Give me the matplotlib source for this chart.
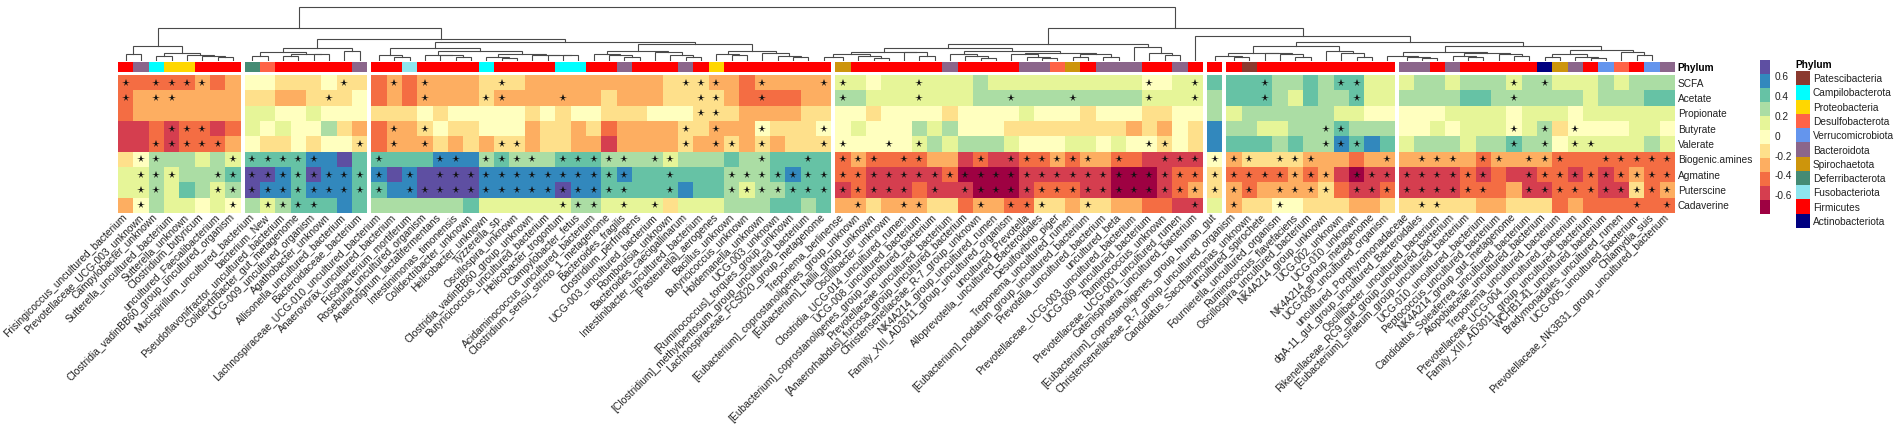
import numpy as np
import matplotlib
matplotlib.use('Agg')
import matplotlib.pyplot as plt
from matplotlib.colors import ListedColormap, BoundaryNorm
from matplotlib.transforms import ScaledTranslation

plt.rcParams['font.family'] = ['Liberation Sans', 'DejaVu Sans']

# correlation estimates, read from the colour bins of the heatmap
D, R, O, o, l, y, g, G, T, B, P = -0.72, -0.58, -0.44, -0.30, -0.16, -0.02, 0.12, 0.27, 0.41, 0.55, 0.69

rows = ['SCFA', 'Acetate', 'Propionate', 'Butyrate', 'Valerate', 'Biogenic.amines', 'Agmatine', 'Puterscine', 'Cadaverine']

block_sizes = [8, 8, 30, 24, 1, 11, 18]

scfa = [O,O,O,O,O,o,O,o, y,y,l,l,l,y,l,l,
        O,o,O,o,o,o,o,l,l,l,o,o,o,o,o,o,o, o,o,l,l,l,o,o,O,o,o,o,o,o,
        g,g,y,g,g,g,g,g,g,G,g,g,g,g,g,g,g,g,g,g,y,y,g,g, T,
        T,T,T,G,G,T,G,T,T,g,g, g,G,G,g,G,G,G,g,G,G,g,g,g,G,g,G,G,G]
acetate = [O,o,o,o,o,o,o,o, l,l,o,o,l,l,l,y,
           O,o,O,o,o,o,o,l,o,o,o,o,o,o,o,l,o, o,o,l,l,l,l,o,O,O,O,O,o,o,
           G,G,g,g,g,g,g,g,g,G,G,G,G,G,G,G,G,G,G,G,g,g,g,g, G,
           T,T,T,G,g,T,G,G,T,g,g, G,G,G,G,T,T,G,G,G,G,G,G,g,G,G,G,T,T]
propionate = [O,o,o,o,o,o,o,o, g,g,y,y,g,y,y,y,
              l,l,l,y,l,y,y,y,y,y,l,y,l,y,y,l,l, l,y,y,y,l,l,l,o,o,o,o,l,l,
              y,y,l,y,y,y,y,l,y,y,y,y,g,y,y,y,l,y,y,y,l,l,y,y, G,
              g,G,G,G,G,G,G,g,g,y,y, y,y,y,g,g,g,g,y,g,g,g,y,g,g,g,g,g,g]
butyrate = [R,R,O,R,O,O,R,O, g,y,g,y,y,G,l,o,
            O,o,o,l,y,l,l,y,y,y,o,l,l,o,l,O,o, o,o,o,l,l,o,o,o,y,l,l,l,y,
            y,g,y,y,y,G,g,G,y,y,y,l,l,l,l,l,l,l,l,o,l,o,y,l, B,
            G,G,g,g,G,G,G,T,G,G,G, y,y,g,y,g,g,g,y,g,G,l,y,y,y,y,g,g,y]
valerate = [R,R,O,R,O,O,O,o, y,l,l,y,l,y,y,l,
            O,o,o,o,l,o,l,o,l,l,o,l,l,o,o,R,o, o,o,o,l,o,o,l,o,l,o,l,l,l,
            y,y,y,y,y,g,G,g,G,G,G,g,y,y,y,g,g,y,g,y,y,l,y,l, B,
            T,T,T,G,T,G,G,B,T,B,T, g,G,G,G,g,G,G,T,G,G,y,g,g,g,g,g,G,g]
biogenic = [l,y,G,G,G,g,G,g, T,T,T,T,B,B,P,T,
            T,T,T,T,B,B,B,G,T,G,G,G,T,T,T,G,G, G,G,g,G,G,G,T,G,G,T,T,T,T,
            O,o,O,O,O,O,o,o,R,O,R,R,O,O,o,O,o,o,O,O,R,R,R,R, y,
            o,l,l,l,l,o,o,o,O,o,o, o,o,o,o,o,O,o,o,o,o,O,O,O,O,O,O,O,O]
agmatine = [g,g,G,g,G,G,G,T, P,P,B,T,P,B,B,T,
            B,P,B,P,P,P,P,B,B,B,B,B,B,B,B,T,B, T,T,T,T,T,T,G,G,G,T,B,T,T,
            O,O,R,R,R,R,R,O,D,D,D,D,R,R,R,R,R,R,D,D,D,R,O,O, l,
            O,O,O,O,o,O,o,R,D,R,R, R,R,R,R,O,R,O,R,R,O,O,R,O,R,O,o,O,O]
puterscine = [g,g,G,g,T,G,g,G, P,B,B,T,B,B,B,T,
              T,B,B,P,P,P,P,B,B,B,B,B,P,B,B,T,T, T,T,T,B,T,T,G,g,G,G,T,T,T,
              R,O,R,R,R,O,R,R,R,D,D,D,R,O,O,O,R,R,D,D,D,R,O,o, l,
              o,O,o,o,o,o,l,O,R,R,O, R,R,R,R,O,O,O,o,R,R,O,O,O,R,R,l,O,o]
cadaverine = [o,y,G,g,g,y,g,y, G,g,G,T,T,T,B,T,
              G,G,G,G,G,G,T,g,g,g,g,g,g,G,G,g,g, g,g,l,g,g,g,G,G,G,T,T,G,T,
              o,o,l,o,o,o,l,l,O,o,o,O,O,l,l,o,l,l,o,o,O,O,R,R, g,
              o,l,l,y,y,l,l,l,o,o,l, l,l,l,l,l,o,o,l,l,l,O,o,O,O,O,O,O,O]
values = np.array([scfa, acetate, propionate, butyrate, valerate, biogenic, agmatine, puterscine, cadaverine])

# columns carrying a significance star, per row
stars_scfa = [0,2,3,4,5, 14, 17,19,24,36,37,38,41,45, 46,51,66,69, 73,78,79, 89,91]
stars_acetate = [0,2,3, 13, 19,23,24,28,37,38,41, 46,51,57,61,66,69, 73,79, 89]
stars_propionate = [37,38]
stars_butyrate = [3,4,5, 17,19,36,38,41,45, 77,78, 89,91,93]
stars_valerate = [2,3,4,5,6, 15, 17,19,24,25,36,38,39,41,45, 46,49,51,66,67, 77,78,79, 89,91,93,94]
stars_biogenic = [1,2,7, 8,9,10,11,12, 16,20,21,23,24,25,26,28,29,30,31,32,34,35,41,44,
                  46,47,48,50,51,55,57,58,59,60,61,62,64,67,68,69, 70, 71,72,74,75,76,81,
                  83,84,85,87,88,90,91,92,95,96,97,98,99]
stars_agmatine = [1,2,3,6,7, 8,9,10,11,12,13,14,15, 16,18,20,21,22,23,24,25,26,27,28,29,30,31,32,35,39,40,41,42,43,44,45,
                  46,47,48,49,50,51,52,53,54,55,56,57,58,59,60,61,62,63,64,65,66,67,68,69, 70,
                  71,72,73,74,75,76,77,79,80,81, 82,83,84,85,86,87,90,91,92,93,94,95,96,97,98,99]
stars_puterscine = [1,2,6,7, 8,9,10,11,12,13,14,15, 16,18,19,20,21,22,23,24,25,26,27,28,29,30,31,32,35,39,40,41,42,43,44,45,
                    46,47,48,49,50,52,54,55,56,57,58,59,60,61,62,63,64,65,66,67,68,69, 70,
                    71,72,74,75,76,77,79,80,81, 82,83,84,85,86,87,90,91,92,93,94,95,96,97,98,99]
stars_cadaverine = [1,7, 9,10,11,12, 28,29,30,32,34, 47,50,51,55,57,58,59,62,69, 71,74, 83,84,97,99]
stars = [stars_scfa, stars_acetate, stars_propionate, stars_butyrate, stars_valerate,
         stars_biogenic, stars_agmatine, stars_puterscine, stars_cadaverine]

columns = [
    'Frisingicoccus_uncultured_bacterium', 'Prevotellaceae_UCG-003_unknown', 'Campylobacter_unknown',
    'Sutterella_uncultured_bacterium', 'Sutterella_unknown', 'Clostridium_butyricum',
    'uncultured_Faecalibacterium', 'Clostridia_vadinBB60_group_uncultured_organism',
    'Mucispirillum_uncultured_bacterium', 'bacterium_New', 'Pseudoflavonifractor_uncultured_bacterium',
    'Colidextribacter_gut_metagenome', 'UCG-009_uncultured_organism', 'Agathobacter_unknown',
    'Allisonella_uncultured_bacterium', 'Bacteroidaceae_bacterium',
    'Lachnospiraceae_UCG-010_uncultured_bacterium', 'Anaerovorax_uncultured_bacterium', 'Fusobacterium_mortiferum',
    'Roseburia_uncultured_organism', 'Anaerotignum_lactatifermentans', 'Intestinimonas_timonensis',
    'Colidextribacter_unknown', 'Helicobacter_unknown', 'Tyzzerella_sp.', 'Oscillospira_unknown',
    'Clostridia_vadinBB60_group_unknown', 'Butyricicoccus_uncultured_bacterium', 'Helicobacter_trogontum',
    'Campylobacter_fetus', 'Acidaminococcus_uncultured_bacterium', 'Clostridium_sensu_stricto_1_metagenome',
    'Bacteroides_fragilis', 'Clostridium_perfringens', 'UCG-003_uncultured_bacterium', 'Romboutsia_unknown',
    'Bacteroides_caecigallinarum', 'Intestinibacter_uncultured_bacterium', '[Pasteurella]_aerogenes',
    'Bacillus_unknown', 'Butyricicoccus_unknown', 'Holdemanella_unknown', 'UCG-003_unknown',
    '[Ruminococcus]_torques_group_unknown', '[Clostridium]_methylpentosum_group_uncultured_bacterium',
    'Lachnospiraceae_FCS020_group_metagenome',
    'Treponema_berlinense', '[Eubacterium]_coprostanoligenes_group_unknown', '[Eubacterium]_hallii_group_unknown',
    'Oscillibacter_unknown', 'Clostridia_UCG-014_uncultured_rumen', 'UCG-008_uncultured_bacterium',
    '[Eubacterium]_coprostanoligenes_group_uncultured_bacterium', 'Prevotellaceae_uncultured_bacterium',
    '[Anaerorhabdus]_furcosa_group_uncultured_bacterium', 'Christensenellaceae_R-7_group_unknown',
    'NK4A214_group_uncultured_rumen', 'Family_XIII_AD3011_group_uncultured_organism', 'uncultured_Prevotella',
    'Alloprevotella_uncultured_Bacteroidales', 'Desulfovibrio_piger', 'Treponema_uncultured_rumen',
    '[Eubacterium]_nodatum_group_uncultured_bacterium', 'Prevotella_uncultured_bacterium', 'uncultured_beta',
    'Prevotellaceae_UCG-003_uncultured_bacterium', 'UCG-009_uncultured_bacterium', 'Ruminococcus_unknown',
    'Prevotellaceae_UCG-001_uncultured_rumen', 'Catenisphaera_uncultured_bacterium',
    '[Eubacterium]_coprostanoligenes_group_human_gut',
    'Christensenellaceae_R-7_group_uncultured_organism', 'Candidatus_Saccharimonas_unknown', 'uncultured_spirochete',
    'Fournierella_uncultured_organism', 'Ruminococcus_flavefaciens', 'Oscillospira_uncultured_bacterium',
    'NK4A214_group_unknown', 'UCG-002_unknown', 'UCG-010_unknown', 'NK4A214_group_metagenome',
    'UCG-005_uncultured_organism',
    'uncultured_Porphyromonadaceae', 'dgA-11_gut_group_uncultured_Bacteroidales', 'Oscillibacter_uncultured_bacterium',
    'Rikenellaceae_RC9_gut_group_uncultured_bacterium', '[Eubacterium]_siraeum_group_uncultured_bacterium',
    'UCG-010_uncultured_bacterium', 'Peptococcus_uncultured_bacterium', 'NK4A214_group_gut_metagenome',
    'Candidatus_Soleaferrea_uncultured_bacterium', 'Atopobiaceae_uncultured_bacterium', 'Treponema_uncultured_bacterium',
    'Prevotellaceae_UCG-004_uncultured_bacterium', 'Family_XIII_AD3011_group_uncultured_bacterium',
    'WCHB1-41_uncultured_bacterium', 'Bradymonadales_uncultured_rumen', 'UCG-005_uncultured_bacterium',
    'Chlamydia_suis', 'Prevotellaceae_NK3B31_group_uncultured_bacterium',
]

phyla = ['Patescibacteria', 'Campilobacterota', 'Proteobacteria', 'Desulfobacterota', 'Verrucomicrobiota',
         'Bacteroidota', 'Spirochaetota', 'Deferribacterota', 'Fusobacteriota', 'Firmicutes', 'Actinobacteriota']
phylum_colors = ['#8B3A2F', '#00FFFF', '#FFD700', '#FF6347', '#6495ED', '#8B668B', '#CD950C', '#458B74',
                 '#8EE5EE', '#FF0000', '#000080']
Pa, Ca, Pr, Ds, Ve, Ba, Sp, De, Fu, Fi, Ac = range(11)
column_phylum = [Fi,Ba,Ca,Pr,Pr,Fi,Fi,Fi, De,Ds,Fi,Fi,Fi,Fi,Fi,Ba,
                 Fi,Fi,Fu,Fi,Fi,Fi,Fi,Ca,Fi,Fi,Fi,Fi,Ca,Ca,Fi,Fi,Ba,Fi,Fi,Fi,Ba,Fi,Pr,Fi,Fi,Fi,Fi,Fi,Fi,Fi,
                 Sp,Fi,Fi,Fi,Fi,Fi,Fi,Ba,Fi,Fi,Fi,Fi,Ba,Ba,Ds,Sp,Fi,Ba,Ba,Ba,Fi,Fi,Ba,Fi,
                 Fi,
                 Fi,Pa,Fi,Fi,Fi,Fi,Fi,Fi,Fi,Fi,Fi,
                 Ba,Ba,Fi,Ba,Fi,Fi,Fi,Fi,Fi,Ac,Sp,Ba,Fi,Ve,Ds,Fi,Ve,Ba]

# dendrogram as (height, left, right), None is a leaf, leaves run left to right
_ = None
tree_b1 = (15.3, (6.7, _, _), (7.7, (4.7, _, _), (6.0, _, (5.0, _, (4.3, _, _)))))
tree_b2 = (13.3, (8.7, (5.3, _, _), (7.5, (5.0, _, _), (7.0, _, _))), (10.3, _, _))
tree_b3 = (18.7,
           (13.3, (6.0, _, (3.7, _, _)),
            (10.3, (6.3, _, (5.7, _, (4.3, _, _))),
             (7.0, (4.3, _, (3.0, _, _)), (6.5, _, (6.2, _, (6.0, _, _)))))),
           (16.7, (10.0, (7.0, _, (6.0, _, (3.7, _, _))), (8.7, _, (6.5, _, (4.3, _, _)))),
            (9.7, (7.0, _, (6.0, _, _)), (7.7, _, (5.3, _, (3.7, _, _))))))
tree_b4 = (17.0,
           (12.7, (9.3, (7.0, (4.3, _, _), (5.0, _, (2.7, _, _))), (8.7, _, (5.0, _, _))),
            (10.3, (7.0, _, (5.0, _, (2.7, _, _))),
             (8.3, (7.0, _, (4.3, _, (3.0, _, _))), (7.0, (3.7, _, _), (4.3, _, _))))),
           (13.7, _, (7.7, _, (6.0, _, _))))
tree_b6 = (14.7, (8.3, (5.3, _, (3.7, _, _)), (7.7, _, (7.0, _, (3.7, _, _)))), (10.3, _, (8.3, _, (4.3, _, _))))
tree_b7 = (15.3,
           (9.3, (5.3, _, (4.3, _, (2.7, _, _))), (8.0, (5.3, _, (4.3, _, _)), (7.0, _, (5.3, _, _)))),
           (11.0, (7.0, (3.7, _, _), (4.3, _, (2.7, _, _))), (9.3, _, (6.0, _, _))))
tree = (54.3, (33.5, tree_b1, (21.7, tree_b2, tree_b3)), (33.5, tree_b4, (25.3, _, (19.3, tree_b6, tree_b7))))

colorbar_ticks = [0.6, 0.4, 0.2, 0, -0.2, -0.4, -0.6]
colorbar_edges = np.linspace(-0.79, 0.765, 12)
heat_colors = ['#9E0142', '#D53E4F', '#F46D43', '#FDAE61', '#FEE08B', '#FFFFBF',
               '#E6F598', '#ABDDA4', '#66C2A5', '#3288BD', '#5E4FA2']

W, H = 1902, 432


def px_axes(x0, y0, x1, y1):
    return fig.add_axes([x0 / W, 1 - y1 / H, (x1 - x0) / W, (y1 - y0) / H])


fig = plt.figure(figsize=(W / 100, H / 100), dpi=100)
gap = 0.26
heat_cmap = ListedColormap(heat_colors)
heat_norm = BoundaryNorm(colorbar_edges, 11)
phylum_cmap = ListedColormap(phylum_colors)

# column positions with the white gaps between cut blocks
offsets = np.repeat(np.arange(len(block_sizes)) * gap, block_sizes)
centers = np.arange(100) + 0.5 + offsets
xlim = (0, 100 + gap * (len(block_sizes) - 1))

ax_tree = px_axes(118, 0, 1675, 61)
ax_ann = px_axes(118, 62, 1675, 72)
ax_heat = px_axes(118, 75, 1675, 213)

start = 0
for i, n in enumerate(block_sizes):
    edges = np.arange(start, start + n + 1) + i * gap
    ax_heat.pcolormesh(edges, np.arange(10), values[:, start:start + n], cmap=heat_cmap, norm=heat_norm)
    ax_ann.pcolormesh(edges, [0, 1], np.array(column_phylum[start:start + n])[None, :], cmap=phylum_cmap, vmin=-0.5, vmax=10.5)
    start += n

for r, cols in enumerate(stars):
    ax_heat.plot(centers[cols], np.full(len(cols), r + 0.5), ls='none', marker='*', color='#111111', ms=5.6, mew=0)

ax_heat.set_xlim(xlim)
ax_heat.set_ylim(9, 0)
ax_heat.set_xticks(centers)
ax_heat.set_xticklabels(columns, rotation=45, ha='right', va='center', rotation_mode='anchor', fontsize=7.4, color='#222222')
shift = ScaledTranslation(5 / 100, -13 / 100, fig.dpi_scale_trans)
for t in ax_heat.get_xticklabels():
    t.set_transform(t.get_transform() + shift)
ax_heat.yaxis.tick_right()
ax_heat.set_yticks(np.arange(9) + 0.5)
ax_heat.set_yticklabels(rows, fontsize=7.3, color='#222222')
ax_heat.tick_params(length=0, pad=2)
for s in ax_heat.spines.values():
    s.set_visible(False)

ax_ann.set_xlim(xlim)
ax_ann.set_ylim(0, 1)
ax_ann.set_xticks([])
ax_ann.yaxis.tick_right()
ax_ann.set_yticks([0.5])
ax_ann.set_yticklabels(['Phylum'], fontsize=7.3, fontweight='bold')
ax_ann.tick_params(length=0, pad=2)
for s in ax_ann.spines.values():
    s.set_visible(False)

leaf = iter(centers)


def draw(node):
    # returns x and height of the node, drawing its bracket
    if node is None:
        return next(leaf), 0
    h, a, b = node
    xa, ha = draw(a)
    xb, hb = draw(b)
    ax_tree.plot([xa, xa, xb, xb], [ha, h, h, hb], color='#4a4a4a', lw=0.8, solid_joinstyle='miter')
    return (xa + xb) / 2, h


draw(tree)
ax_tree.set_xlim(xlim)
ax_tree.set_ylim(0, 61)
ax_tree.axis('off')

# colour bar
ax_cb = px_axes(1760, 60, 1770, 214)
ax_cb.pcolormesh([0, 1], colorbar_edges, np.array(colorbar_edges[:-1] + 0.01)[:, None], cmap=heat_cmap, norm=heat_norm)
ax_cb.set_ylim(colorbar_edges[0], colorbar_edges[-1])
ax_cb.set_xticks([])
ax_cb.yaxis.tick_right()
ax_cb.set_yticks(colorbar_ticks)
ax_cb.set_yticklabels([str(v) for v in colorbar_ticks], fontsize=7.3, color='#222222')
ax_cb.tick_params(length=0, pad=3)
for s in ax_cb.spines.values():
    s.set_visible(False)

# phylum legend
ax_leg = px_axes(1795.5, 71, 1810, 228)
ax_leg.barh(range(11), 1, height=1, left=0, color=phylum_colors)
ax_leg.set_xlim(0, 1)
ax_leg.set_ylim(10.5, -0.5)
ax_leg.set_xticks([])
ax_leg.yaxis.tick_right()
ax_leg.set_yticks(range(11))
ax_leg.set_yticklabels(phyla, fontsize=7.3, color='#222222')
ax_leg.tick_params(length=0, pad=2)
for s in ax_leg.spines.values():
    s.set_visible(False)
ax_leg.set_title('Phylum', loc='left', fontsize=7.3, fontweight='bold', pad=2)

fig.savefig('out.png', dpi=100)
